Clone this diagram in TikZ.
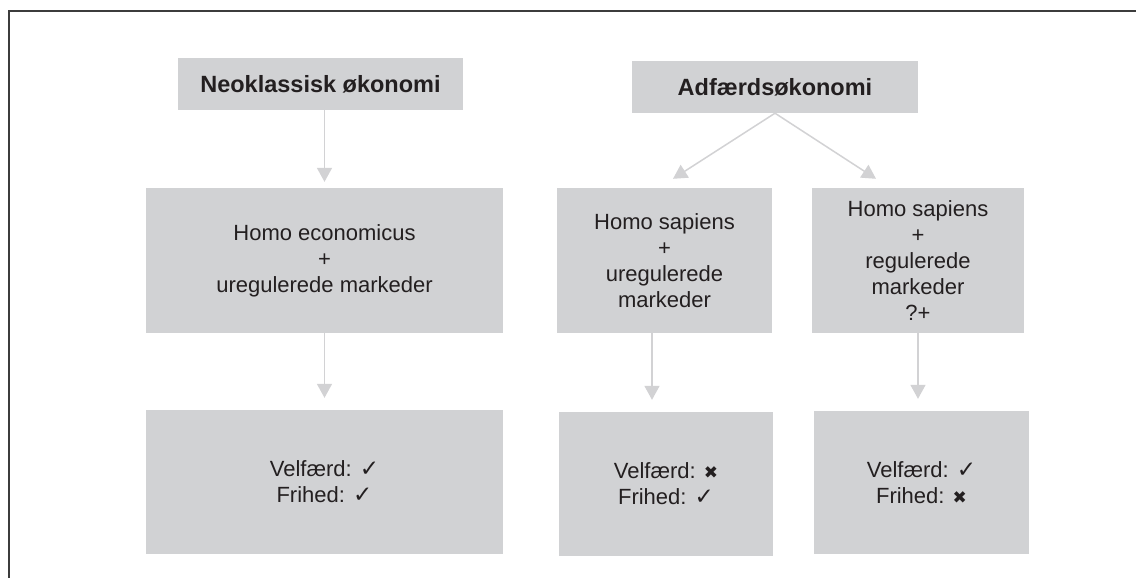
\documentclass[tikz,border=0pt]{standalone}
\usepackage{fontspec}
\setmainfont{Liberation Sans}
\newfontfamily\symfont{DejaVu Sans}
\usetikzlibrary{arrows.meta}
\definecolor{boxgray}{HTML}{D1D2D4}
\definecolor{arrgray}{HTML}{D2D2D4}
\definecolor{txt}{HTML}{231F20}
\definecolor{framecol}{HTML}{3C3C3C}
\newcommand{\yes}{{\symfont\fontsize{23}{26}\selectfont ✓}}
\newcommand{\no}{{\symfont\fontsize{17}{26}\selectfont ✖}}
\tikzset{
  box/.style={fill=boxgray, draw=none, inner sep=0pt, align=center, text=txt,
    font=\fontsize{22}{26}\selectfont},
  title/.style={box, font=\bfseries\fontsize{23.5}{26}\selectfont},
  arr/.style={draw=arrgray, line width=1.5pt, -{Triangle[width=15pt,length=14pt]}},
}
\begin{document}
\begin{tikzpicture}[x=1pt,y=-1pt]
\useasboundingbox (0,0) rectangle (1136,578);
\fill[white] (0,0) rectangle (1136,578);
\draw[framecol, line width=2pt] (9,578) -- (9,11) -- (1136,11);

\node[title, minimum width=285pt, minimum height=52pt] (neo) at (320.5,84) {Neoklassisk økonomi};
\node[title, minimum width=286pt, minimum height=52pt] (adf) at (775,87) {Adfærdsøkonomi};

\node[box, minimum width=357pt, minimum height=145pt] (econ) at (324.5,260.5) {Homo economicus\\+\\uregulerede markeder};
\node[box, minimum width=215pt, minimum height=145pt] (sap1) at (664.5,260.5) {Homo sapiens\\+\\uregulerede\\markeder};
\node[box, minimum width=212pt, minimum height=145pt] (sap2) at (918,260.5) {Homo sapiens\\+\\regulerede\\markeder\\?+};

\node[box, minimum width=357pt, minimum height=144pt] (bot1) at (324.5,482) {Velfærd: \yes\\Frihed: \yes};
\node[box, minimum width=214pt, minimum height=144pt] (bot2) at (666,484) {Velfærd: \no\\Frihed: \yes};
\node[box, minimum width=215pt, minimum height=143pt] (bot3) at (921.5,482.5) {Velfærd: \yes\\Frihed: \no};

\draw[arr, shorten >=6pt] (neo.south -| econ.north) -- (econ.north);
\draw[arr, shorten >=12pt] (econ.south) -- (econ.south |- bot1.north);
\draw[arr, shorten >=12pt] ([xshift=-12.5pt]sap1.south) -- ([xshift=-12.5pt]sap1.south |- bot2.north);
\draw[arr, shorten >=12pt] (sap2.south) -- (sap2.south |- bot3.north);
\draw[arr] (adf.south) -- ([xshift=8.5pt,yshift=9pt]sap1.north);
\draw[arr] (adf.south) -- ([xshift=-42pt,yshift=9pt]sap2.north);
\end{tikzpicture}
\end{document}
